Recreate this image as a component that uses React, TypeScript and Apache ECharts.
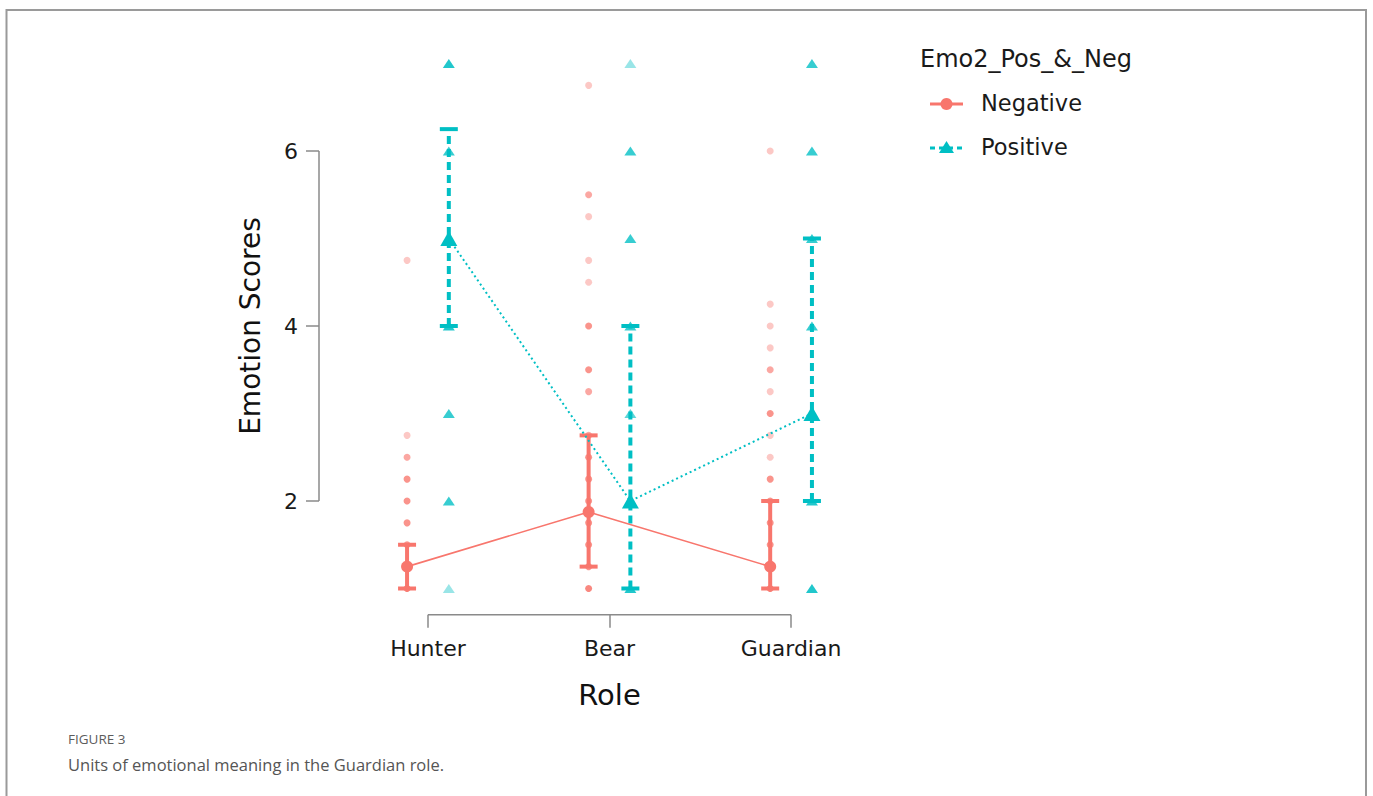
import React, { useEffect, useRef } from "react";
import * as echarts from "echarts";

// ---- data ----
const categories = ["Hunter", "Bear", "Guardian"];
const yTickValues = [2, 4, 6];
const seriesNames = ["Negative", "Positive"];
const legendTitle = "Emo2_Pos_&_Neg";

const negMean = [1.25, 1.875, 1.25];
const negLower = [1, 1.25, 1];
const negUpper = [1.5, 2.75, 2];

const posMean = [5, 2, 3];
const posLower = [4, 1, 2];
const posUpper = [6.25, 4, 5];

// raw scores per role: [score, number of overlapping responses]
const negHunter = [[4.75, 1], [2.75, 1], [2.5, 2], [2.25, 3], [2, 3], [1.75, 3], [1.5, 3], [1.25, 3], [1, 5]];
const negBear = [[6.75, 1], [5.5, 2], [5.25, 1], [4.75, 1], [4.5, 1], [4, 3], [3.5, 3], [3.25, 2], [2.75, 2], [2.5, 3], [2.25, 3], [2, 3], [1.75, 3], [1.5, 3], [1.25, 3], [1, 4]];
const negGuardian = [[6, 1], [4.25, 1], [4, 1], [3.75, 1], [3.5, 2], [3.25, 1], [3, 3], [2.75, 1], [2.5, 1], [2.25, 3], [2, 3], [1.75, 3], [1.5, 3], [1.25, 3], [1, 5]];

const posHunter = [[7, 4], [6, 3], [5, 3], [4, 4], [3, 3], [2, 3], [1, 1]];
const posBear = [[7, 1], [6, 3], [5, 3], [4, 3], [3, 2], [2, 3], [1, 4]];
const posGuardian = [[7, 3], [6, 3], [5, 3], [4, 3], [3, 3], [2, 4], [1, 4]];

// ---- style constants ----
const NEG = "#F8766D";
const POS = "#00BFC4";
const FONT = "DejaVu Sans";
const X_MIN = 0.4;
const X_MAX = 3.6;
const Y_MIN = 0.7;
const Y_MAX = 7.3;
const DODGE = 0.115;

function rawData(groups: number[][][], offset: number) {
  const out: any[] = [];
  groups.forEach((g, i) => {
    g.forEach(([v, n]) => {
      out.push({
        value: [i + 1 + offset, v],
        itemStyle: { opacity: 1 - Math.pow(0.6, n) },
      });
    });
  });
  return out;
}

function errorBars(lower: number[], upper: number[], offset: number) {
  return lower.map((l, i) => [i + 1 + offset, l, upper[i]]);
}

function makeErrorRender(color: string, dash: number[] | null) {
  return (params: any, api: any) => {
    const x = api.value(0);
    const lo = api.coord([x, api.value(1)]);
    const hi = api.coord([x, api.value(2)]);
    const cap = 9;
    const style = { stroke: color, lineWidth: 4, lineDash: dash || undefined, fill: null };
    return {
      type: "group",
      children: [
        { type: "line", shape: { x1: lo[0], y1: lo[1], x2: hi[0], y2: hi[1] }, style },
        { type: "line", shape: { x1: hi[0] - cap, y1: hi[1], x2: hi[0] + cap, y2: hi[1] }, style: { stroke: color, lineWidth: 4 } },
        { type: "line", shape: { x1: lo[0] - cap, y1: lo[1], x2: lo[0] + cap, y2: lo[1] }, style: { stroke: color, lineWidth: 4 } },
      ],
    };
  };
}

export default function App() {
  const ref = useRef<HTMLDivElement>(null);

  useEffect(() => {
    if (!ref.current) return;
    const chart = echarts.init(ref.current, null, { renderer: "svg" });

    const option: any = {
      animation: false,
      backgroundColor: "#ffffff",
      grid: { left: 319, right: 473, top: 37.25, bottom: 181.25 },
      xAxis: {
        type: "value",
        min: X_MIN,
        max: X_MAX,
        name: "Role",
        nameLocation: "middle",
        nameGap: 66,
        nameTextStyle: { fontFamily: FONT, fontSize: 29, color: "#111" },
        axisLine: { show: false },
        splitLine: { show: false },
        axisTick: { show: true, customValues: [1, 2, 3], length: 13, lineStyle: { color: "#8a8a8a", width: 1.5 } },
        axisLabel: {
          customValues: [1, 2, 3],
          formatter: (v: number) => categories[Math.round(v) - 1] ?? "",
          fontFamily: FONT,
          fontSize: 22,
          color: "#1a1a1a",
          margin: 23,
        },
      },
      yAxis: {
        type: "value",
        min: Y_MIN,
        max: Y_MAX,
        name: "Emotion Scores",
        nameLocation: "middle",
        nameGap: 55,
        nameRotate: 90,
        nameTextStyle: { fontFamily: FONT, fontSize: 28, color: "#111" },
        axisLine: { show: false },
        splitLine: { show: false },
        axisTick: { show: true, customValues: yTickValues, length: 13, lineStyle: { color: "#8a8a8a", width: 1.5 } },
        axisLabel: {
          customValues: yTickValues,
          fontFamily: FONT,
          fontSize: 22,
          color: "#1a1a1a",
          margin: 21,
        },
      },
      series: [
        {
          type: "custom",
          name: "axes",
          silent: true,
          clip: false,
          data: [[0]],
          renderItem: (params: any, api: any) => {
            const a = api.coord([X_MIN, yTickValues[0]]);
            const b = api.coord([X_MIN, yTickValues[yTickValues.length - 1]]);
            const c = api.coord([1, Y_MIN]);
            const d = api.coord([categories.length, Y_MIN]);
            const st = { stroke: "#8a8a8a", lineWidth: 1.5 };
            return {
              type: "group",
              children: [
                { type: "line", shape: { x1: a[0], y1: a[1], x2: b[0], y2: b[1] }, style: st },
                { type: "line", shape: { x1: c[0], y1: c[1], x2: d[0], y2: d[1] }, style: st },
              ],
            };
          },
          z: 1,
        },
        {
          type: "scatter",
          name: "NegativeRaw",
          symbol: "circle",
          symbolSize: 7,
          itemStyle: { color: NEG },
          data: rawData([negHunter, negBear, negGuardian], -DODGE),
          z: 2,
        },
        {
          type: "scatter",
          name: "PositiveRaw",
          symbol: "triangle",
          symbolSize: [12, 9],
          itemStyle: { color: POS },
          data: rawData([posHunter, posBear, posGuardian], DODGE),
          z: 2,
        },
        {
          type: "custom",
          name: "NegativeCI",
          clip: false,
          data: errorBars(negLower, negUpper, -DODGE),
          renderItem: makeErrorRender(NEG, null),
          z: 3,
        },
        {
          type: "custom",
          name: "PositiveCI",
          clip: false,
          data: errorBars(posLower, posUpper, DODGE),
          renderItem: makeErrorRender(POS, [8, 5]),
          z: 3,
        },
        {
          type: "line",
          name: seriesNames[0],
          data: negMean.map((m, i) => [i + 1 - DODGE, m]),
          symbol: "circle",
          symbolSize: 12,
          showAllSymbol: true,
          lineStyle: { color: NEG, width: 1.6 },
          itemStyle: { color: NEG },
          z: 4,
        },
        {
          type: "line",
          name: seriesNames[1],
          data: posMean.map((m, i) => [i + 1 + DODGE, m]),
          symbol: "triangle",
          symbolSize: [17, 15],
          showAllSymbol: true,
          lineStyle: { color: POS, width: 2, type: [2, 3] },
          itemStyle: { color: POS },
          z: 4,
        },
      ],
      graphic: [
        {
          type: "rect",
          silent: true,
          shape: { x: 6.5, y: 10, width: 1359.5, height: 820 },
          style: { fill: null, stroke: "#9a9a9a", lineWidth: 2 },
        },
        {
          type: "text",
          left: 920,
          top: 47,
          style: { text: legendTitle, font: `24px '${FONT}'`, fill: "#1a1a1a" },
        },
        {
          type: "line",
          shape: { x1: 930, y1: 104, x2: 963, y2: 104 },
          style: { stroke: NEG, lineWidth: 3 },
        },
        { type: "circle", shape: { cx: 946.5, cy: 104, r: 6 }, style: { fill: NEG } },
        {
          type: "text",
          left: 981,
          top: 91,
          style: { text: seriesNames[0], font: `22.5px '${FONT}'`, fill: "#1a1a1a" },
        },
        {
          type: "line",
          shape: { x1: 930, y1: 148, x2: 963, y2: 148 },
          style: { stroke: POS, lineWidth: 3, lineDash: [5, 4] },
        },
        {
          type: "polygon",
          shape: { points: [[939, 153], [954, 153], [946.5, 141]] },
          style: { fill: POS },
        },
        {
          type: "text",
          left: 981,
          top: 135,
          style: { text: seriesNames[1], font: `22.5px '${FONT}'`, fill: "#1a1a1a" },
        },
        {
          type: "text",
          left: 68,
          top: 732,
          style: { text: "FIGURE 3", font: `13.5px 'Open Sans'`, fill: "#5c5c5c" },
        },
        {
          type: "text",
          left: 68,
          top: 756,
          style: { text: "Units of emotional meaning in the Guardian role.", font: `16.5px 'Open Sans'`, fill: "#555555" },
        },
      ],
    };

    chart.setOption(option);
    return () => chart.dispose();
  }, []);

  return (
    <div
      ref={ref}
      style={{ position: "absolute", left: 0, top: 0, width: 1373, height: 796, background: "#fff" }}
    />
  );
}
